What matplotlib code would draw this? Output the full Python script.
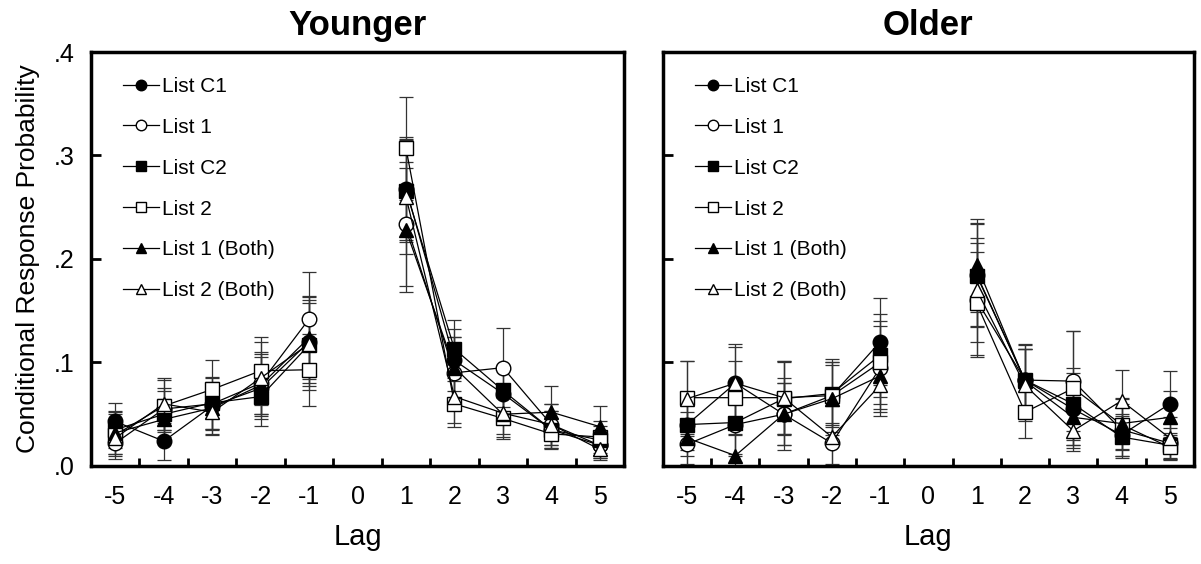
import matplotlib
matplotlib.use("Agg")
import matplotlib.pyplot as plt

plt.rcParams['font.family'] = ['Liberation Sans', 'DejaVu Sans']

# lag axis (no lag 0)
lags_neg = [-5, -4, -3, -2, -1]
lags_pos = [1, 2, 3, 4, 5]
lag_ticks = [-5, -4, -3, -2, -1, 0, 1, 2, 3, 4, 5]
y_ticks = [0.0, 0.1, 0.2, 0.3, 0.4]
y_ticklabels = ['.0', '.1', '.2', '.3', '.4']

series_names = ['List C1', 'List 1', 'List C2', 'List 2', 'List 1 (Both)', 'List 2 (Both)']
series_markers = ['o', 'o', 's', 's', '^', '^']
series_fill = ['black', 'white', 'black', 'white', 'black', 'white']

# Younger: values at lags -5..-1, 1..5
young_c1 = [0.043, 0.024, 0.058, 0.075, 0.120, 0.268, 0.102, 0.070, 0.035, 0.020]
young_l1 = [0.022, 0.055, 0.060, 0.080, 0.142, 0.234, 0.090, 0.095, 0.040, 0.020]
young_c2 = [0.035, 0.050, 0.061, 0.067, 0.117, 0.266, 0.113, 0.073, 0.035, 0.025]
young_l2 = [0.030, 0.058, 0.074, 0.092, 0.093, 0.307, 0.060, 0.046, 0.031, 0.028]
young_l1b = [0.032, 0.045, 0.056, 0.078, 0.124, 0.228, 0.095, 0.050, 0.052, 0.038]
young_l2b = [0.027, 0.060, 0.052, 0.085, 0.118, 0.260, 0.067, 0.051, 0.040, 0.016]

young_err_c1 = [0.018, 0.018, 0.022, 0.030, 0.040, 0.050, 0.030, 0.025, 0.018, 0.012]
young_err_l1 = [0.015, 0.020, 0.025, 0.030, 0.045, 0.060, 0.035, 0.038, 0.020, 0.012]
young_err_c2 = [0.018, 0.022, 0.025, 0.028, 0.040, 0.050, 0.028, 0.025, 0.018, 0.014]
young_err_l2 = [0.020, 0.025, 0.028, 0.033, 0.035, 0.050, 0.022, 0.020, 0.015, 0.015]
young_err_l1b = [0.020, 0.020, 0.025, 0.030, 0.040, 0.060, 0.030, 0.022, 0.025, 0.020]
young_err_l2b = [0.015, 0.025, 0.022, 0.035, 0.045, 0.055, 0.025, 0.020, 0.020, 0.010]

# Older
old_c1 = [0.040, 0.080, 0.050, 0.068, 0.120, 0.185, 0.083, 0.055, 0.030, 0.060]
old_l1 = [0.021, 0.040, 0.050, 0.022, 0.095, 0.160, 0.083, 0.082, 0.035, 0.022]
old_c2 = [0.040, 0.042, 0.065, 0.070, 0.107, 0.184, 0.083, 0.060, 0.028, 0.020]
old_l2 = [0.066, 0.066, 0.066, 0.068, 0.100, 0.157, 0.052, 0.075, 0.040, 0.018]
old_l1b = [0.027, 0.010, 0.050, 0.065, 0.087, 0.194, 0.082, 0.047, 0.041, 0.047]
old_l2b = [0.065, 0.080, 0.066, 0.028, 0.078, 0.170, 0.078, 0.034, 0.063, 0.027]

old_err_c1 = [0.030, 0.035, 0.030, 0.030, 0.042, 0.050, 0.030, 0.035, 0.020, 0.032]
old_err_l1 = [0.020, 0.030, 0.030, 0.020, 0.040, 0.055, 0.030, 0.048, 0.025, 0.015]
old_err_c2 = [0.025, 0.030, 0.035, 0.030, 0.040, 0.050, 0.035, 0.035, 0.020, 0.012]
old_err_l2 = [0.035, 0.035, 0.035, 0.035, 0.040, 0.050, 0.025, 0.055, 0.025, 0.012]
old_err_l1b = [0.025, 0.020, 0.035, 0.035, 0.035, 0.045, 0.035, 0.030, 0.025, 0.025]
old_err_l2b = [0.036, 0.038, 0.035, 0.030, 0.030, 0.050, 0.035, 0.020, 0.030, 0.020]

young_vals = [young_c1, young_l1, young_c2, young_l2, young_l1b, young_l2b]
young_errs = [young_err_c1, young_err_l1, young_err_c2, young_err_l2, young_err_l1b, young_err_l2b]
old_vals = [old_c1, old_l1, old_c2, old_l2, old_l1b, old_l2b]
old_errs = [old_err_c1, old_err_l1, old_err_c2, old_err_l2, old_err_l1b, old_err_l2b]

fig = plt.figure(figsize=(12.01, 5.64), dpi=100)
ax1 = fig.add_axes([0.0758, 0.1738, 0.4438, 0.734])
ax2 = fig.add_axes([0.5520, 0.1738, 0.4421, 0.734])


def draw_panel(ax, vals, errs, title, show_ylabels):
    for name, mk, fc, v, e in zip(series_names, series_markers, series_fill, vals, errs):
        for xs, sl in ((lags_neg, slice(0, 5)), (lags_pos, slice(5, 10))):
            ax.errorbar(xs, v[sl], yerr=e[sl], fmt='none', ecolor='#333333',
                        elinewidth=0.9, capsize=5, capthick=0.9, zorder=2)
        ax.plot(lags_neg, v[:5], color='black', lw=0.9, marker=mk, markersize=10.5,
                markerfacecolor=fc, markeredgecolor='black', markeredgewidth=1.0,
                zorder=3, label=name)
        ax.plot(lags_pos, v[5:], color='black', lw=0.9, marker=mk, markersize=10.5,
                markerfacecolor=fc, markeredgecolor='black', markeredgewidth=1.0,
                zorder=3)

    ax.set_xlim(-5.5, 5.5)
    ax.set_ylim(0, 0.4)
    ax.set_xticks(lag_ticks)
    ax.set_xticklabels([str(t) for t in lag_ticks], fontsize=18)
    ax.set_xticks([t + 0.5 for t in lag_ticks[:-1]], minor=True)
    ax.tick_params(axis='x', which='major', length=0, pad=14)
    ax.tick_params(axis='x', which='minor', direction='in', length=6, width=2)
    ax.set_yticks(y_ticks)
    ax.tick_params(axis='y', direction='in', length=7, width=2, pad=12)
    if show_ylabels:
        ax.set_yticklabels(y_ticklabels, fontsize=18)
        ax.set_ylabel('Conditional Response Probability', fontsize=19, labelpad=10)
    else:
        ax.set_yticklabels([])
    for s in ax.spines.values():
        s.set_linewidth(2.5)
    ax.set_xlabel('Lag', fontsize=21, labelpad=10)
    ax.set_title(title, fontsize=25, fontweight='bold', pad=12)
    ax.legend(loc='upper left', bbox_to_anchor=(0.045, 0.96), frameon=False,
              fontsize=15, handlelength=1.7, handletextpad=0.15,
              labelspacing=1.05, markerscale=0.72, borderaxespad=0)


draw_panel(ax1, young_vals, young_errs, 'Younger', True)
draw_panel(ax2, old_vals, old_errs, 'Older', False)

fig.savefig('out.png', dpi=100)
